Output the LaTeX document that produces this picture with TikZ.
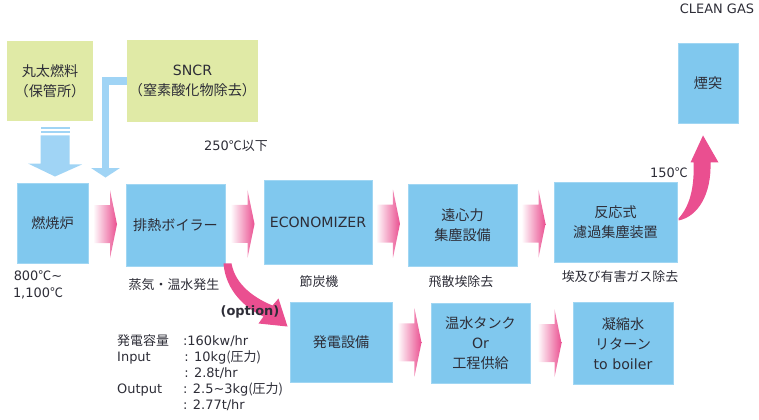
\documentclass[tikz,border=0pt]{standalone}
\usepackage{fontspec}
\setmainfont{DejaVu Sans}
\newfontfamily\jp{Noto Sans CJK JP}
\usetikzlibrary{calc,arrows.meta}

\definecolor{boxblue}{RGB}{128,200,238}
\definecolor{boxedge}{RGB}{160,214,243}
\definecolor{boxgreen}{RGB}{224,234,166}
\definecolor{flowpink}{RGB}{234,79,144}
\definecolor{sidearrow}{RGB}{160,212,245}
\definecolor{textgray}{RGB}{45,45,55}

\tikzset{
	bluebox/.style={fill=boxblue, draw=boxedge, line width=0.8pt, align=center, text=textgray, inner sep=0pt, font=\fontsize{12}{17}\selectfont},
	greenbox/.style={bluebox, fill=boxgreen, draw=none},
	note/.style={text=textgray, inner sep=0pt, font=\fontsize{11}{14}\selectfont},
}

\newcommand{\flowarrow}[2]{%
	\path ($(#1.east)!0.5!(#2.west)+(-2,0)$) coordinate (m);
	\shade[left color=white, right color=flowpink] ($(m)+(-12,-19)$) -- ++(17,0) -- ++(0,-15) -- ($(m)+(12,0)$) -- ($(m)+(5,34)$) -- ++(0,-15) -- ++(-17,0) -- cycle;
}

\begin{document}
\begin{tikzpicture}[x=0.85pt, y=0.85pt]
	\useasboundingbox (0,0) rectangle (759,419);
	% inputs
	\node[greenbox, minimum width=73pt, minimum height=68pt] (log) at (50,338) {{\jp 丸太燃料}\\{\jp （保管所）}};
	\node[greenbox, minimum width=111.4pt, minimum height=69.7pt] (sncr) at (192.5,338) {SNCR\\{\jp （窒素酸化物除去）}};
	% main line
	\node[bluebox, minimum width=60.4pt, minimum height=68pt] (furnace) at (52.5,196) {\jp 燃焼炉};
	\node[bluebox, minimum width=84.2pt, minimum height=68.9pt] (boiler) at (175.5,193.5) {\jp 排熱ボイラー};
	\node[bluebox, minimum width=91.8pt, minimum height=70.6pt] (econ) at (318,196.5) {ECONOMIZER};
	\node[bluebox, minimum width=92.7pt, minimum height=69.7pt] (cyclone) at (462.5,194) {{\jp 遠心力}\\{\jp 集塵設備}};
	\node[bluebox, minimum width=104.6pt, minimum height=67.2pt] (bagfilter) at (615.5,196.5) {{\jp 反応式}\\{\jp 濾過集塵装置}};
	\node[bluebox, minimum width=51pt, minimum height=68pt] (stack) at (708,336) {\jp 煙突};
	% power line
	\node[bluebox, minimum width=86.7pt, minimum height=68pt] (generator) at (341,77) {\jp 発電設備};
	\node[bluebox, minimum width=84.2pt, minimum height=68pt] (tank) at (480.5,76) {{\jp 温水タンク}\\Or\\{\jp 工程供給}};
	\node[bluebox, minimum width=85pt, minimum height=68.9pt] (condensate) at (623,75.5) {{\jp 凝縮水}\\{\jp リターン}\\to boiler};

	% labels
	\node[note] (cleangas) at (717,410) {CLEAN GAS};
	\node[note] (temp250) at (236,273) {250{\jp ℃以下}};
	\node[note] (temp150) at (669,246) {150{\jp ℃}};
	\node[note, align=center] (temp800) at (38,134) {800{\jp ℃}\textasciitilde\\1,100{\jp ℃}};
	\node[note] (steamlbl) at (174,134) {\jp 蒸気・温水発生};
	\node[note] (econlbl) at (319,137) {\jp 節炭機};
	\node[note] (dustlbl) at (461,137) {\jp 飛散埃除去};
	\node[note] (gaslbl) at (620,142) {\jp 埃及び有害ガス除去};
	\node[note, anchor=north west, align=left, font=\fontsize{11}{13.6}\selectfont] (spec) at (117,85) {%
		\makebox[56pt][l]{\jp 発電容量}:160kw/hr\\
		\makebox[57pt][l]{Input}: 10kg{\jp (圧力)}\\
		\makebox[57pt][l]{}: 2.8t/hr\\
		\makebox[56pt][l]{Output}: 2.5\textasciitilde3kg{\jp (圧力)}\\
		\makebox[56pt][l]{}: 2.77t/hr};

	% log feed
	\coordinate (logtip) at ($(furnace.north)+(2.5,6)$);
	\fill[sidearrow] ($(log.south)+(-9.5,-6)$) rectangle ++(29,-2);
	\fill[sidearrow] ($(log.south)+(-9.5,-10)$) rectangle ++(29,-2);
	\fill[sidearrow] ($(log.south)+(-9.5,-14)$) -- ++(29,0) -- ++(0,-29) -- ++(12.5,0) -- (logtip) -- ++(-27,13) -- ++(12.5,0) -- cycle;
	% SNCR feed
	\coordinate (sncrtip) at ($(furnace.north east)+(17,5)$);
	\draw[sidearrow, line width=6pt, -{Triangle[width=24pt,length=8pt]}] (sncr.west) -| (sncrtip);

	% flow
	\flowarrow{furnace}{boiler}
	\flowarrow{boiler}{econ}
	\flowarrow{econ}{cyclone}
	\flowarrow{cyclone}{bagfilter}
	\flowarrow{generator}{tank}
	\flowarrow{tank}{condensate}

	% boiler to generator
	\coordinate (b0) at ($(boiler.south east)+(-2,3)$);
	\coordinate (gtip) at ($(generator.north west)+(-2,-25)$);
	\fill[flowpink] (b0) .. controls ($(b0)+(2,-27)$) and ($(b0)+(22,-45)$) .. ($(b0)+(40,-53)$) -- ($(b0)+(35,-60)$) -- (gtip) -- ($(b0)+(55,-35)$) -- ($(b0)+(49,-42)$) .. controls ($(b0)+(32,-35)$) and ($(b0)+(12,-22)$) .. ($(b0)+(8,0)$) -- cycle;
	\node[note, font=\bfseries\fontsize{11}{14}\selectfont] (optlbl) at (250,107) {(option)};
	% filter to stack
	\coordinate (s0) at ($(bagfilter.east)+(1,4)$);
	\coordinate (stip) at ($(stack.south)+(-5,-12)$);
	\fill[flowpink] (s0) .. controls ($(s0)+(12,13)$) and ($(s0)+(16,33)$) .. ($(s0)+(15,56)$) -- ($(s0)+(12,56)$) -- (stip) -- ($(s0)+(40,56)$) -- ($(s0)+(32,56)$) .. controls ($(s0)+(33,25)$) and ($(s0)+(20,2)$) .. ($(s0)+(0,-2)$) -- cycle;
\end{tikzpicture}
\end{document}
